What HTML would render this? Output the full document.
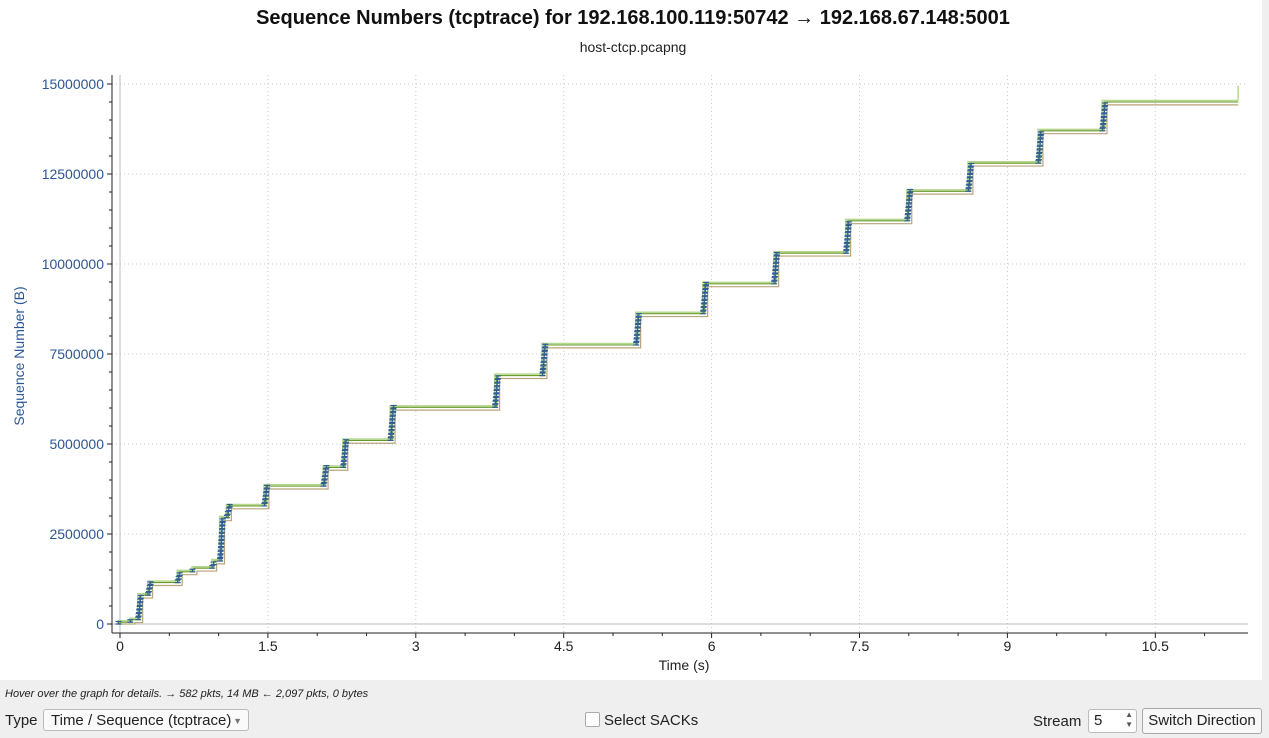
<!DOCTYPE html>
<html><head><meta charset="utf-8"><style>
body{margin:0;width:1269px;height:738px;overflow:hidden;background:#efefef;font-family:"Liberation Sans","DejaVu Sans",sans-serif;}
#plot{position:absolute;left:0;top:0;width:1262px;height:680px;background:#fff;}
.t{position:absolute;white-space:nowrap;}
</style></head><body>
<div id="plot">
<svg id="svg" width="1262" height="680" style="position:absolute;left:0;top:0;font-family:'Liberation Sans',sans-serif">
<text x="633" y="24" text-anchor="middle" font-size="20" font-weight="bold" fill="#111">Sequence Numbers (tcptrace) for 192.168.100.119:50742 → 192.168.67.148:5001</text>
<text x="633" y="52" text-anchor="middle" font-size="14" fill="#222">host-ctcp.pcapng</text>
<text x="0" y="0" transform="translate(24,356) rotate(-90)" text-anchor="middle" font-size="14" fill="#2b5797">Sequence Number (B)</text>
<text x="684" y="670" text-anchor="middle" font-size="14" fill="#222">Time (s)</text>
<g id="grid"></g><g id="axes"></g><g id="series"></g>
</svg>
</div>
<div class="t" style="left:5px;top:688px;font-size:11px;font-style:italic;color:#222">Hover over the graph for details. → 582 pkts, 14 MB ← 2,097 pkts, 0 bytes</div>
<div class="t" style="left:5px;top:712px;font-size:15px;color:#222">Type</div>
<div class="t" style="left:43px;top:709px;width:206px;height:22px;border:1px solid #bbb;border-radius:3px;background:#fafafa;font-size:15px;line-height:22px;box-sizing:border-box;padding-left:7px;color:#222">Time / Sequence (tcptrace)<span style="position:absolute;right:6px;top:0;font-size:9px;color:#777">▼</span></div>
<div class="t" style="left:585px;top:712px;width:13px;height:13px;border:1px solid #aaa;background:#fff;border-radius:2px"></div>
<div class="t" style="left:604px;top:712px;font-size:15px;color:#222">Select SACKs</div>
<div class="t" style="left:1033px;top:713px;font-size:15px;color:#222">Stream</div>
<div class="t" style="left:1088px;top:709px;width:49px;height:24px;border:1px solid #bbb;border-radius:3px;background:#fff;font-size:15px;line-height:22px;box-sizing:border-box;padding-left:5px;color:#222">5<span style="position:absolute;right:3px;top:0;font-size:8px;line-height:10px;color:#555">▲<br>▼</span></div>
<div class="t" style="left:1142px;top:708px;width:120px;height:26px;border:1px solid #aaa;border-radius:3px;background:#f7f7f7;font-size:15px;line-height:24px;text-align:center;box-sizing:border-box;color:#222">Switch Direction</div>
<script>
const xTicks=[0,1.5,3,4.5,6,7.5,9,10.5];
const xTickLabels=["0","1.5","3","4.5","6","7.5","9","10.5"];
const yTicks=[0,2500000,5000000,7500000,10000000,12500000,15000000];
const yTickLabels=["0","2500000","5000000","7500000","10000000","12500000","15000000"];
const burstTimes=[0.0,0.12,0.2,0.3,0.6,0.75,0.95,1.03,1.1,1.48,2.08,2.28,2.76,3.82,4.3,5.25,5.93,6.65,7.38,8.0,8.62,9.33,9.98];
const burstLevels=[0.05e6,0.12e6,0.8e6,1.15e6,1.45e6,1.55e6,1.75e6,2.95e6,3.28e6,3.83e6,4.35e6,5.1e6,6.02e6,6.9e6,7.75e6,8.62e6,9.45e6,10.3e6,11.2e6,12.02e6,12.8e6,13.7e6,14.5e6];
const endTime=11.34;
const NS='http://www.w3.org/2000/svg';
const X=t=>120+t*98.6;
const Y=v=>624-v*36/1e6;
const L=112,R=1248,T=75,B=633;
function mk(tag,attrs,parent){const e=document.createElementNS(NS,tag);for(const k in attrs)e.setAttribute(k,attrs[k]);document.getElementById(parent).appendChild(e);return e;}
xTicks.forEach((t,i)=>{
 const g=mk('line',{x1:X(t),x2:X(t),y1:T,y2:B,stroke:t===0?'#bbb':'#c8c8c8','stroke-dasharray':t===0?'':'1,3'},'grid');
 
 
 mk('line',{x1:X(t),x2:X(t),y1:B,y2:B+5,stroke:'#222'},'axes');
 const tx=mk('text',{x:X(t),y:B+18,'text-anchor':'middle','font-size':14,fill:'#222'},'axes');
 tx.textContent=xTickLabels[i];
 
 
});
for(let t=0.5;t<=11.1;t+=0.5){if(Math.abs(t/1.5-Math.round(t/1.5))>0.01)mk('line',{x1:X(t),x2:X(t),y1:B,y2:B+3,stroke:'#222'},'axes');}
yTicks.forEach((v,i)=>{
 const g=mk('line',{x1:L,x2:R,y1:Y(v),y2:Y(v),stroke:v===0?'#bbb':'#c8c8c8','stroke-dasharray':v===0?'':'1,3'},'grid');
 
 
 mk('line',{x1:L-5,x2:L,y1:Y(v),y2:Y(v),stroke:'#222'},'axes');
 const tx=mk('text',{x:L-8,y:Y(v)+5,'text-anchor':'end','font-size':14,fill:'#2b5797'},'axes');
 tx.textContent=yTickLabels[i];
 
 
});
for(let v=0;v<=15e6;v+=5e5){mk('line',{x1:L-3,x2:L,y1:Y(v),y2:Y(v),stroke:'#222'},'axes');}
mk('line',{x1:L,x2:L,y1:T,y2:B,stroke:'#222'},'axes');
mk('line',{x1:L,x2:R,y1:B,y2:B,stroke:'#222'},'axes');
function stepPath(dt,dv){let d='M'+X(0)+','+Y(0);
 burstTimes.forEach((t,i)=>{const lv=Math.max(0,burstLevels[i]-dv);d+=' H'+X(t+dt)+' V'+Y(lv);});
 d+=' H'+X(endTime);return d;}
const win=mk('path',{d:stepPath(-0.02,-0.04e6),fill:'none',stroke:'#b5d88f','stroke-width':1.5},'series');


mk('line',{x1:X(endTime),x2:X(endTime),y1:Y(burstLevels[burstLevels.length-1]+0.04e6),y2:Y(14.95e6),stroke:'#b5d88f','stroke-width':1.5},'series');
const ack=mk('path',{d:stepPath(0.03,0.08e6),fill:'none',stroke:'#b8a479','stroke-width':1.2},'series');


const seq=mk('path',{d:stepPath(0,0),fill:'none',stroke:'#6a9a2a','stroke-width':1.1},'series');


burstTimes.forEach((t,i)=>{const lo=i?burstLevels[i-1]:0,hi=burstLevels[i];
 for(let v=lo;v<hi;v+=0.1e6){const x=X(t)+((v-lo)/(hi-lo+1))*3-1.5;
  const s=mk('path',{d:`M${x-3},${Y(v)} h6 M${x},${Y(v)} V${Y(v+0.07e6)} M${x-3},${Y(v+0.07e6)} h6`,stroke:'#2f5f8f','stroke-width':1.2,fill:'none'},'series');
  
  }
});
</script>
</body></html>
